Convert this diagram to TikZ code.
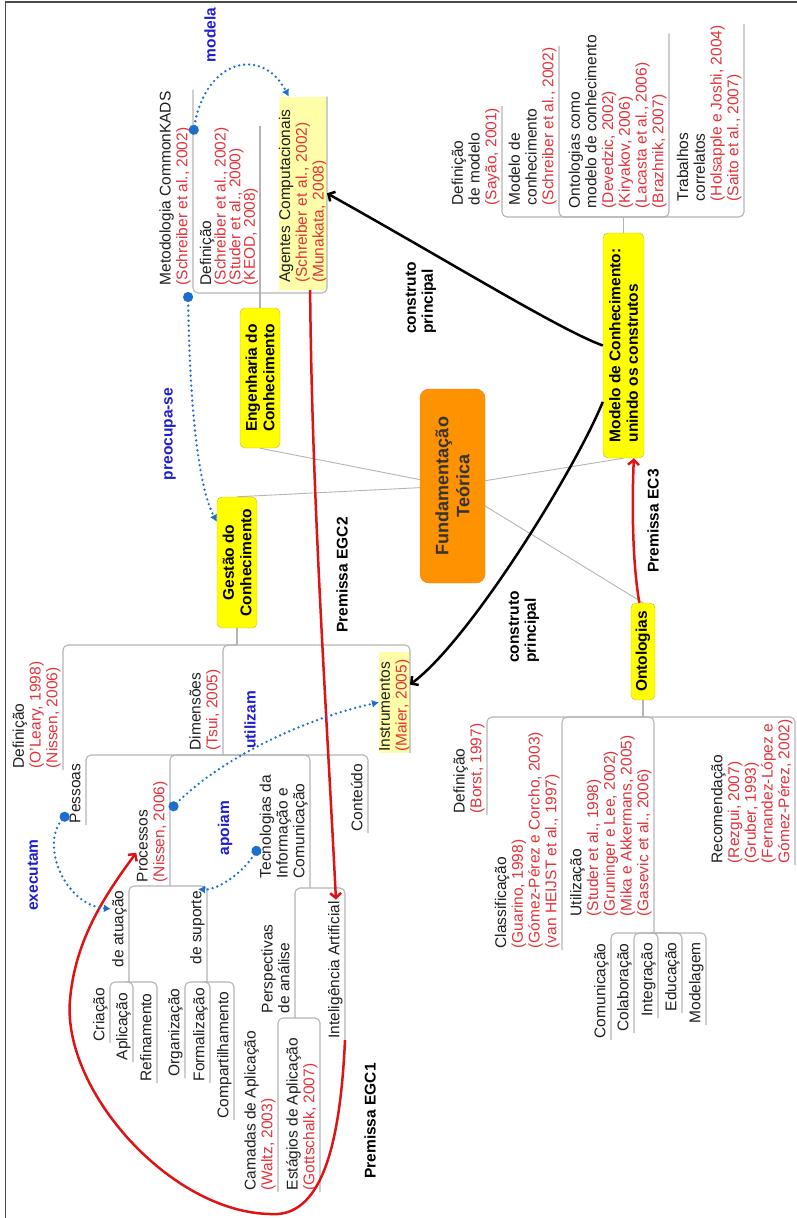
\documentclass[tikz,border=0pt]{standalone}
\usepackage{fontspec}
\setmainfont{Liberation Sans}
\usetikzlibrary{arrows.meta,calc}

\definecolor{txtgray}{RGB}{30,30,30}
\definecolor{citred}{RGB}{226,50,58}
\definecolor{premred}{RGB}{222,20,20}
\definecolor{relblue}{RGB}{30,110,205}
\definecolor{lblblue}{RGB}{30,30,205}
\definecolor{topicyellow}{RGB}{255,255,0}
\definecolor{topicedge}{RGB}{190,180,70}
\definecolor{hlyellow}{RGB}{255,255,170}
\definecolor{ftorange}{RGB}{255,146,0}
\definecolor{ftedge}{RGB}{225,130,40}
\definecolor{linegray}{RGB}{180,180,180}

\newcommand{\cita}[1]{\textcolor{citred}{#1}}

\begin{document}
\begin{tikzpicture}[x=1pt,y=-1pt,
    every node/.style={rotate=90,text=txtgray,font=\fontsize{15.5}{16.7}\selectfont},
    topic/.style={draw=topicedge,fill=topicyellow,rounded corners=5pt,align=center,inner sep=1pt,
      font=\fontsize{15.5}{17.5}\selectfont\bfseries,text=black},
    sub/.style={anchor=south west,align=left,inner xsep=1.5pt,inner ysep=0.5pt,execute at end node=\strut},
    tight/.style={font=\fontsize{15.5}{14.6}\selectfont},
    hl/.style={anchor=south west,align=left,fill=hlyellow,inner ysep=0pt},
    branch/.style={draw=linegray,line width=1.1pt,rounded corners=5pt},
    spoke/.style={draw=linegray,line width=0.9pt},
    lbl/.style={font=\fontsize{15.5}{17}\selectfont\bfseries,text=black,align=left},
    rlbl/.style={font=\fontsize{15.5}{17}\selectfont\bfseries,text=lblblue},
    premissa/.style={draw=premred,line width=2.5pt,-{Straight Barb[length=5pt,width=11pt]}},
    construto/.style={draw=black,line width=2.5pt,-{Straight Barb[length=5pt,width=11pt]}},
    relacao/.style={draw=relblue,line width=2.6pt,line cap=round,dash pattern=on 0pt off 5pt,
      {Circle[length=10pt]}-{Latex[length=7pt,width=8pt]}}]

  \useasboundingbox (0,0) rectangle (797,1218);
  \draw[black!70,line width=1.5pt] (5.5,1218) -- (5.5,2) -- (797,2);

  % centro e topicos principais
  \node[draw=ftedge,fill=ftorange,rounded corners=9pt,minimum width=194pt,minimum height=65pt,
        align=center,font=\fontsize{18}{21}\selectfont\bfseries,text=black!80] (ft) at (452.5,486) {Fundamentação\\Teórica};
  \node[topic,minimum width=131pt,minimum height=40pt] (gc) at (237,562.5) {Gestão do\\Conhecimento};
  \node[topic,minimum width=140pt,minimum height=40pt] (ec) at (260,378) {Engenharia do\\Conhecimento};
  \node[topic,minimum width=225pt,minimum height=41pt,align=left] (mc) at (623.5,345.5) {Modelo de Conhecimento:\\unindo os construtos};
  \node[topic,minimum width=97pt,minimum height=24pt] (on) at (643,651.5) {Ontologias};

  \draw[spoke] (ft) -- (gc.east);
  \draw[spoke] (ft) -- (ec.west);
  \draw[spoke] (ft) -- (mc.west);
  \draw[spoke] (ft) -- (on.east);

  % Engenharia do Conhecimento
  \coordinate (ecs) at (260,293);
  \node[sub] (mck) at (193,287) {Metodologia CommonKADS\\\cita{(Schreiber et al., 2002)}};
  \node[sub,tight] (edf) at (260,287) {Definição\\\cita{(Schreiber et al., 2002)}\\\cita{(Studer et al., 2000)}\\\cita{(KEOD, 2008)}};
  \node[hl,text width=179pt,inner xsep=7pt] (ag) at (327,290) {Agentes Computacionais\\\cita{(Schreiber et al., 2002)}\\\cita{(Munakata, 2008)}};
  \draw[branch] (ec.east) -- (ecs);
  \draw[branch] (ecs) -| (mck.south east);
  \draw[branch] (ecs) -| (edf.south east);
  \draw[branch] (ecs) -| (ag.south east);

  % Modelo de Conhecimento
  \coordinate (mcs) at (623.5,217);
  \node[sub] (dmo) at (502,207) {Definição\\de modelo\\\cita{(Sayão, 2001)}};
  \node[sub] (mdc) at (559,207) {Modelo de\\conhecimento\\\cita{(Schreiber et al., 2002)}};
  \node[sub] (oc) at (669,210) {Ontologias como\\modelo de conhecimento\\\cita{(Devedzic, 2002)}\\\cita{(Kiryakov, 2006)}\\\cita{(Lacasta et al., 2006)}\\\cita{(Brazhnik, 2007)}};
  \node[sub] (tr) at (744,203) {Trabalhos\\correlatos\\\cita{(Holsapple e Joshi, 2004)}\\\cita{(Saito et al., 2007)}};
  \draw[branch] (mc.east) -- (mcs);
  \foreach \n in {dmo,mdc,oc,tr}
    \draw[branch] (mcs) -| (\n.south east);

  % Gestao do Conhecimento
  \coordinate (gcs) at (237,645);
  \coordinate (dmb) at (223,755);
  \coordinate (prb) at (170,886);
  \coordinate (atb) at (129,982);
  \coordinate (sub) at (207,982);
  \coordinate (tcb) at (310,888);
  \coordinate (pab) at (295,1018);
  \node[sub] (gdf) at (63,770) {Definição\\\cita{(O'Leary, 1998)}\\\cita{(Nissen, 2006)}};
  \node[sub] (dm) at (223,752) {Dimensões\\\cita{(Tsui, 2005)}};
  \node[hl,text width=99pt,inner xsep=1pt] (in) at (410,753) {Instrumentos\\\cita{(Maier, 2005)}};
  \node[sub] (pe) at (86,825) {Pessoas};
  \node[sub] (pr) at (170,884) {Processos\\\cita{(Nissen, 2006)}};
  \node[sub] (tc) at (310,880) {Tecnologias da\\Informação e\\Comunicação};
  \node[sub] (ct) at (368,833) {Conteúdo};
  \node[sub] (at) at (129,969) {de atuação};
  \node[sub] (su) at (207,966) {de suporte};
  \node[sub] (cr) at (110,1043) {Criação};
  \node[sub] (ap) at (133,1062) {Aplicação};
  \node[sub] (rf) at (157,1083) {Refinamento};
  \node[sub] (og) at (185,1078) {Organização};
  \node[sub] (fo) at (210,1083) {Formalização};
  \node[sub] (cp) at (234,1120) {Compartilhamento};
  \node[sub] (pa) at (295,1015) {Perspectivas\\de análise};
  \node[sub] (ia) at (345,1040) {Inteligência Artificial};
  \node[sub] (ca) at (278,1192) {Camadas de Aplicação\\\cita{(Waltz, 2003)}};
  \node[sub] (es) at (320,1192) {Estágios de Aplicação\\\cita{(Gottschalk, 2007)}};
  \draw[branch] (gc.west) -- (gcs);
  \draw[branch] (gcs) -| (gdf.south west);
  \draw[branch] (gcs) -| (dmb);
  \draw[branch] (gcs) -| (in.south west);
  \draw[branch] (dmb) -| (pe.south west);
  \draw[branch] (dmb) -| (prb);
  \draw[branch] (dmb) -| (tcb);
  \draw[branch] (dmb) -| (ct.south west);
  \draw[branch] (prb) -| (atb);
  \draw[branch] (prb) -| (sub);
  \foreach \n in {cr,ap,rf}
    \draw[branch] (atb) -| (\n.south west);
  \foreach \n in {og,fo,cp}
    \draw[branch] (sub) -| (\n.south west);
  \draw[branch] (tcb) -| (pab);
  \draw[branch] (tcb) -| (ia.south west);
  \draw[branch] (pab) -| (ca.south west);
  \draw[branch] (pab) -| (es.south west);

  % Ontologias
  \coordinate (ons) at (643,717);
  \coordinate (utb) at (654,933);
  \node[sub] (odf) at (487,815) {Definição\\\cita{(Borst, 1997)}};
  \node[sub] (ocl) at (562,950) {Classificação\\\cita{(Guarino, 1998)}\\\cita{(Gómez-Pérez e Corcho, 2003)}\\\cita{(van HEIJST et al., 1997)}};
  \node[sub] (out) at (654,918) {Utilização\\\cita{(Studer et al., 1998)}\\\cita{(Gruninger e Lee, 2002)}\\\cita{(Mika e Akkermans, 2005)}\\\cita{(Gasevic et al., 2006)}};
  \node[sub] (ore) at (795,865) {Recomendação\\\cita{(Rezgui, 2007)}\\\cita{(Gruber, 1993)}\\\cita{(Fernandez-López e}\\\cita{Gómez-Pérez, 2002)}};
  \node[sub] (cm) at (611,1040) {Comunicação};
  \node[sub] (cb) at (634,1033) {Colaboração};
  \node[sub] (ig) at (658,1018) {Integração};
  \node[sub] (ed) at (682,1013) {Educação};
  \node[sub] (mo) at (706,1025) {Modelagem};
  \draw[branch] (on.west) -- (ons);
  \draw[branch] (ons) -| (odf.south west);
  \draw[branch] (ons) -| (ocl.south west);
  \draw[branch] (ons) -| (utb);
  \draw[branch] (ons) -| (ore.south west);
  \foreach \n in {cm,cb,ig,ed,mo}
    \draw[branch] (utb) -| (\n.south west);

  % rotulos
  \node[lbl] (cp1) at (421,298) {construto\\principal};
  \node[lbl] (cp2) at (524,627) {construto\\principal};
  \node[lbl] (pm2) at (342,575) {Premissa EGC2};
  \node[lbl] (pm1) at (370,1121) {Premissa EGC1};
  \node[lbl] (pm3) at (653,521) {Premissa EC3};
  \node[rlbl] (r1) at (210,35) {modela};
  \node[rlbl] (r2) at (170,434) {preocupa-se};
  \node[rlbl] (r3) at (250,720) {utilizam};
  \node[rlbl] (r4) at (225,828) {apoiam};
  \node[rlbl] (r5) at (33,875) {executam};

  % construtos e premissas
  \draw[construto] (mc.north) .. controls (560,330) and (450,262) .. (ag.south);
  \draw[construto] ($(mc.north)!0.5!(mc.north west)$) .. controls (575,470) and (470,640) .. ($(in.south)!0.35!(in.south east)$);
  \draw[premissa] ($(on.east)!0.3!(on.north east)$) .. controls (632,560) and (632,500) .. ($(mc.west)!0.5!(mc.south west)$);
  \draw[premissa] ($(ag.west)!0.3!(ag.south west)$) .. controls (312,500) and (326,700) .. (ia.east);
  \draw[premissa] (ia.south west) .. controls (340,1150) and (320,1218) .. (270,1214)
    .. controls (170,1212) and (62,1090) .. (70,1000)
    .. controls (75,940) and (105,895) .. ($(pr.north)!0.4!(pr.north west)$);

  % relacoes
  \draw[relacao] ([yshift=-45pt]mck.south east) .. controls (205,60) and (262,45) .. ([xshift=10pt]ag.north east);
  \draw[relacao] ([xshift=-5pt,yshift=-5pt]mck.south west) .. controls (190,420) and (200,490) .. ([yshift=-25pt]gc.north east);
  \draw[relacao] ([yshift=-30pt]pr.south east) .. controls (230,750) and (320,715) .. (in.north);
  \draw[relacao] ([yshift=-20pt]tc.north) .. controls (245,870) and (220,890) .. (su.east);
  \draw[relacao] ([yshift=12pt]pe.north west) .. controls (40,845) and (65,905) .. ([yshift=-20pt]at.north east);
\end{tikzpicture}
\end{document}
